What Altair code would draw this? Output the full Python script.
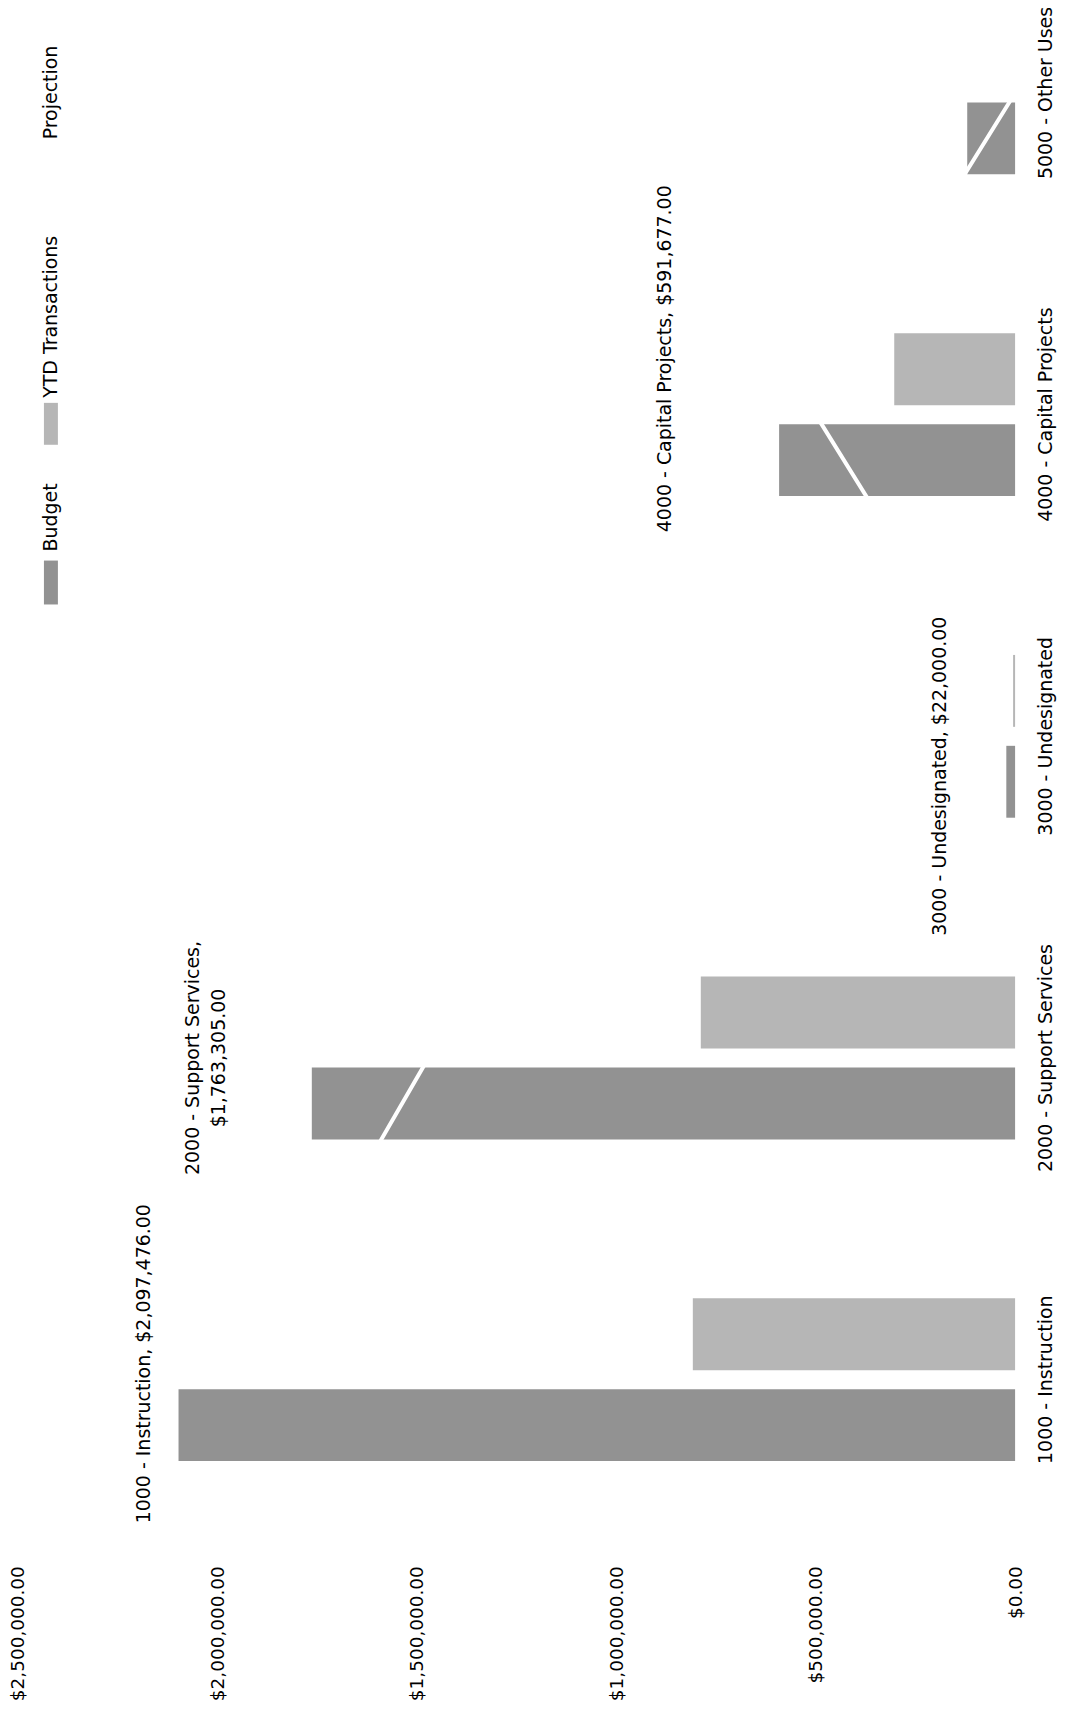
import altair as alt
import pandas as pd

# ---------------- data ----------------
categories = ["1000 - Instruction", "2000 - Support Services", "3000 - Undesignated",
              "4000 - Capital Projects", "5000 - Other Uses"]
budget = [2097476, 1763305, 22000, 591677, 120000]
ytd = [808000, 788000, 5000, 303000, 0]
projection = [1937000, 1471000, 0, 500000, 0]
series_names = ["Budget", "YTD Transactions", "Projection"]
value_ticks = [0, 500000, 1000000, 1500000, 2000000, 2500000]
labelled = [True, True, True, True, False]
wrapped = [False, True, False, False, False]

# ---------------- style ----------------
FONT = "DejaVu Sans"
FS = 19
C_BUDGET = "#929292"
C_YTD = "#b6b6b6"

bars_df = pd.DataFrame({
    "category": categories * 2,
    "series": [series_names[0]] * len(categories) + [series_names[1]] * len(categories),
    "value": budget + ytd,
})
proj_df = pd.DataFrame({"category": categories, "proj": projection, "idx": list(range(len(categories)))})

lab_rows = []
for i, (c, b) in enumerate(zip(categories, budget)):
    if not labelled[i]:
        continue
    if wrapped[i]:
        txt = [f"{c},", f"${b:,.2f}"]
    else:
        txt = [f"{c}, ${b:,.2f}"]
    lab_rows.append({"category": c, "value": b, "label": txt, "idx": i})
lab_df = pd.DataFrame(lab_rows)

x_scale = alt.Scale(domain=[0, 2500000], reverse=True, nice=False, zero=True)
y_scale = alt.Scale(domain=categories[::-1], paddingInner=0.494, paddingOuter=0.13, align=0)

x_axis = alt.Axis(values=value_ticks, format="$,.2f", labelAngle=270, labelAlign="right",
                  labelBaseline="middle", labelPadding=21, ticks=False, tickSize=0,
                  domain=False, grid=False, title=None, labelFont=FONT, labelFontSize=18.5,
                  labelColor="#000000", labelLimit=0)
y_axis = alt.Axis(orient="right", labelAngle=270, labelAlign="center", labelBaseline="top",
                  labelPadding=21, ticks=False, tickSize=0, domain=False, grid=False,
                  title=None, labelFont=FONT, labelFontSize=FS, labelColor="#000000",
                  labelLimit=0)

bars = alt.Chart(bars_df).mark_bar().encode(
    y=alt.Y("category:N", scale=y_scale, axis=y_axis, sort=categories[::-1]),
    yOffset=alt.YOffset("series:N", sort=[series_names[1], series_names[0]],
                        scale=alt.Scale(domain=[series_names[1], series_names[0]],
                                        paddingInner=0.209, paddingOuter=0)),
    x=alt.X("value:Q", scale=x_scale, axis=x_axis),
    color=alt.Color("series:N", scale=alt.Scale(domain=series_names[:2], range=[C_BUDGET, C_YTD]),
                    legend=None),
)

line = alt.Chart(proj_df).mark_line(color="white", strokeWidth=4).encode(
    y=alt.Y("category:N", scale=y_scale, sort=categories[::-1]),
    x=alt.X("proj:Q", scale=x_scale),
    order=alt.Order("idx:Q"),
)

# label nudges in page pixels (right, down) relative to the end of each Budget bar;
# text is rotated -90deg, so in the text frame dx = -down and dy = right.
nudges = {0: (-25, -16), 1: (-109, 0), 2: (-56, 40), 3: (-104, -56)}
label_layers = []
for i, (px, py) in nudges.items():
    label_layers.append(
        alt.Chart(lab_df).transform_filter(f"datum.idx == {i}").mark_text(
            angle=270, align="center", baseline="bottom", dx=-py, dy=px,
            font=FONT, fontSize=FS, lineHeight=26, color="#000000",
        ).encode(
            y=alt.Y("category:N", scale=y_scale, sort=categories[::-1]),
            x=alt.X("value:Q", scale=x_scale),
            text="label",
        )
    )

# manual rotated legend
one = pd.DataFrame({"k": [0]})
leg = []
leg.append(alt.Chart(one).mark_rect(color=C_BUDGET).encode(
    x=alt.value(26), x2=alt.value(40), y=alt.value(550), y2=alt.value(594)))
leg.append(alt.Chart(one).mark_text(text=series_names[0], angle=270, align="left", baseline="middle",
                                    font=FONT, fontSize=FS, color="#000000").encode(
    x=alt.value(33), y=alt.value(541)))
leg.append(alt.Chart(one).mark_rect(color=C_YTD).encode(
    x=alt.value(26), x2=alt.value(40), y=alt.value(392), y2=alt.value(434)))
leg.append(alt.Chart(one).mark_text(text=series_names[1], angle=270, align="left", baseline="middle",
                                    font=FONT, fontSize=FS, color="#000000").encode(
    x=alt.value(33), y=alt.value(387)))
leg.append(alt.Chart(one).mark_rule(color="white", strokeWidth=4).encode(
    x=alt.value(33), y=alt.value(140), y2=alt.value(205)))
leg.append(alt.Chart(one).mark_text(text=series_names[2], angle=270, align="left", baseline="middle",
                                    font=FONT, fontSize=FS, color="#000000").encode(
    x=alt.value(33), y=alt.value(128)))

chart = alt.layer(bars, line, *label_layers, *leg).properties(
    width=999, height=1536,
    padding={"left": 10, "top": 2, "right": 48, "bottom": 158},
    autosize=alt.AutoSizeParams(type="none"),
    background="white",
).configure_view(stroke=None)

chart.save("out.html", embed_options={"renderer": "svg", "actions": False})
